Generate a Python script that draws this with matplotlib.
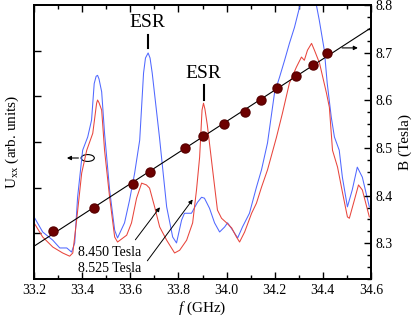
import numpy as np
import matplotlib
matplotlib.use("Agg")
import matplotlib.pyplot as plt
from matplotlib.patches import Ellipse

plt.rcParams['font.family'] = ['Liberation Serif', 'DejaVu Serif']
plt.rcParams['mathtext.fontset'] = 'custom'
plt.rcParams['mathtext.rm'] = 'Liberation Serif'
plt.rcParams['mathtext.it'] = 'Liberation Serif:italic'

# U_xx at 8.450 Tesla (blue)
f_blue = [33.20, 33.236, 33.278, 33.307, 33.336, 33.356, 33.369, 33.381, 33.402, 33.423,
          33.439, 33.450, 33.458, 33.464, 33.470, 33.481, 33.493, 33.514, 33.535, 33.547,
          33.576, 33.597, 33.618, 33.639, 33.655, 33.663, 33.674, 33.682, 33.691, 33.721,
          33.751, 33.776, 33.792, 33.813, 33.825, 33.854, 33.879, 33.896, 33.908, 33.929,
          33.950, 33.971, 33.992, 34.004, 34.025, 34.046, 34.066, 34.095, 34.124, 34.145,
          34.170, 34.199, 34.220, 34.241, 34.261, 34.282, 34.303, 34.311, 34.323, 34.340,
          34.356, 34.373, 34.385, 34.406, 34.418, 34.435, 34.448, 34.468, 34.481, 34.502,
          34.522, 34.543, 34.564, 34.593]
u_blue = [1.36, 1.03, 0.85, 0.68, 0.68, 0.59, 0.79, 1.79, 2.82, 3.11,
          3.48, 4.28, 4.44, 4.46, 4.38, 4.10, 3.19, 1.95, 1.07, 0.90,
          1.23, 1.73, 2.32, 3.04, 4.51, 4.84, 4.95, 4.84, 4.51, 3.11,
          1.58, 0.92, 0.79, 1.29, 1.44, 1.44, 1.68, 1.79, 1.77, 1.55,
          1.23, 1.03, 1.14, 1.23, 1.07, 0.90, 1.14, 1.44, 2.01, 2.39,
          2.98, 4.07, 4.42, 4.79, 5.16, 5.51, 5.95, 6.08, 5.99, 6.20,
          6.28, 6.00, 5.67, 5.01, 4.29, 3.54, 3.11, 2.82, 2.23, 1.58,
          1.95, 2.45, 2.23, 1.58]

# U_xx at 8.525 Tesla (red)
f_red = [33.20, 33.236, 33.278, 33.319, 33.348, 33.361, 33.377, 33.398, 33.419, 33.444,
         33.460, 33.464, 33.470, 33.481, 33.493, 33.514, 33.535, 33.547, 33.585, 33.605,
         33.626, 33.647, 33.667, 33.680, 33.701, 33.722, 33.751, 33.784, 33.805, 33.834,
         33.859, 33.875, 33.888, 33.898, 33.904, 33.910, 33.920, 33.942, 33.962, 33.979,
         34.000, 34.021, 34.041, 34.054, 34.075, 34.104, 34.124, 34.145, 34.170, 34.207,
         34.232, 34.261, 34.290, 34.311, 34.323, 34.336, 34.353, 34.365, 34.386, 34.415,
         34.427, 34.440, 34.461, 34.482, 34.502, 34.510, 34.531, 34.548, 34.564, 34.593]
u_red = [1.23, 0.92, 0.70, 0.57, 0.50, 0.57, 1.29, 2.32, 2.82, 3.19,
         3.85, 3.92, 3.86, 3.70, 2.82, 1.79, 0.92, 0.81, 0.96, 1.23,
         1.77, 2.10, 2.06, 1.99, 1.58, 1.14, 0.85, 0.57, 0.63, 0.85,
         1.23, 1.95, 2.67, 3.70, 3.85, 3.72, 3.37, 2.39, 1.51, 1.33,
         1.23, 1.12, 0.92, 0.81, 1.03, 1.44, 1.66, 2.01, 2.39, 3.10,
         3.63, 4.29, 4.64, 4.86, 4.79, 5.01, 5.16, 5.01, 4.73, 4.07,
         3.76, 2.82, 2.45, 1.88, 1.36, 1.33, 1.73, 2.06, 1.95, 1.36]

# ESR resonance field vs frequency
f_esr = [33.278, 33.448, 33.610, 33.680, 33.829, 33.900, 33.991, 34.078, 34.145,
         34.211, 34.290, 34.357, 34.419]
b_esr = [8.325, 8.375, 8.425, 8.450, 8.500, 8.525, 8.550, 8.575, 8.600,
         8.625, 8.650, 8.675, 8.700]

fig = plt.figure(figsize=(4.15, 3.18), dpi=100)
ax = fig.add_axes([0.082, 0.1226, 0.812, 0.8616])
ax.plot(f_blue, u_blue, color='#5068ff', lw=0.75)
ax.plot(f_red, u_red, color='#e8453c', lw=0.75)
ax.set_xlim(33.2, 34.6)
ax.set_ylim(0, 6)
ax.set_xticks(np.arange(33.2, 34.61, 0.2))
ax.set_xticks(np.arange(33.2, 34.61, 0.1), minor=True)
ax.set_xticklabels([f"{v:.1f}" for v in np.arange(33.2, 34.61, 0.2)])
ax.set_yticks([1, 2, 3, 4, 5])
ax.set_yticklabels([])
ax.tick_params(direction='in', top=True, right=False, labelsize=10, length=5, width=1)
ax.tick_params(which='minor', direction='in', top=True, length=3, width=1)
ax.tick_params(axis='y', which='both', right=False)
for s in ax.spines.values():
    s.set_linewidth(1.3)
ax.set_xlabel(r'$\it{f}$ (GHz)', fontsize=11, labelpad=2)
ax.set_ylabel(r'U$_{\rm xx}$ (arb. units)', fontsize=11, labelpad=6)

# annotations on the left axis
ax.text(33.672, 5.61, 'ESR', ha='center', va='center', fontsize=14)
ax.plot([33.672, 33.672], [5.05, 5.34], color='k', lw=1.5)
ax.text(33.905, 4.50, 'ESR', ha='center', va='center', fontsize=14)
ax.plot([33.905, 33.905], [3.92, 4.24], color='k', lw=1.5)
ax.add_patch(Ellipse((33.423, 2.65), 0.055, 0.15, fill=False, ec='k', lw=0.8))
ax.annotate('', xy=(33.325, 2.65), xytext=(33.396, 2.65),
            arrowprops=dict(arrowstyle='-|>', color='k', lw=0.8, mutation_scale=6))
ax.text(33.381, 0.57, '8.450 Tesla', ha='left', va='center', fontsize=10)
ax.text(33.381, 0.24, '8.525 Tesla', ha='left', va='center', fontsize=10)
ax.annotate('', xy=(33.730, 1.62), xytext=(33.614, 0.81),
            arrowprops=dict(arrowstyle='-|>', color='k', lw=0.7, mutation_scale=6))
ax.annotate('', xy=(33.866, 1.79), xytext=(33.664, 0.35),
            arrowprops=dict(arrowstyle='-|>', color='k', lw=0.7, mutation_scale=6))

# right axis: magnetic field
ax2 = ax.twinx()
ax2.set_ylim(8.225, 8.8)
ax2.set_yticks(np.arange(8.3, 8.81, 0.1))
ax2.set_yticks(np.arange(8.225, 8.81, 0.025), minor=True)
ax2.set_yticklabels([f"{v:.1f}" for v in np.arange(8.3, 8.81, 0.1)])
ax2.tick_params(direction='in', labelsize=10, length=5, width=1)
ax2.tick_params(which='minor', direction='in', length=3, width=1)
ax2.set_ylabel('B (Tesla)', fontsize=11, labelpad=4)
for s in ax2.spines.values():
    s.set_linewidth(1.3)

k, b0 = np.polyfit(f_esr, b_esr, 1)
fx = np.array([33.2, 34.6])
ax2.plot(fx, k * fx + b0, color='k', lw=0.8)
ax2.plot(f_esr, b_esr, 'o', color='#6e0000', ms=6.5, mec='#5a0000')
ax2.annotate('', xy=(34.557, 8.71), xytext=(34.468, 8.71),
             arrowprops=dict(arrowstyle='-|>', color='k', lw=0.8, mutation_scale=6))
ax2.set_xlim(33.2, 34.6)

fig.savefig('out.png', dpi=100)
